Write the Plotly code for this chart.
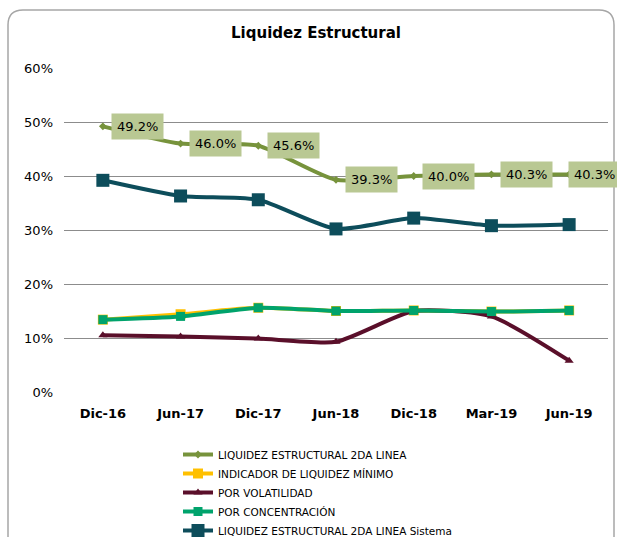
import plotly.graph_objects as go

categories = ["Dic-16", "Jun-17", "Dic-17", "Jun-18", "Dic-18", "Mar-19", "Jun-19"]
liq_2da = [49.2, 46.0, 45.6, 39.3, 40.0, 40.3, 40.3]
ind_min = [13.4, 14.4, 15.6, 15.0, 15.1, 14.9, 15.1]
volat = [10.5, 10.3, 9.9, 9.3, 15.0, 14.0, 5.8]
concen = [13.4, 14.0, 15.6, 15.0, 15.1, 14.9, 15.1]
sistema = [39.2, 36.3, 35.6, 30.2, 32.2, 30.8, 31.0]
y_ticks = [0, 10, 20, 30, 40, 50, 60]

FONT = "DejaVu Sans"

W, H = 617, 537
ML, MR, MT, MB = 64, 9, 68, 0
PW, PH = W - ML - MR, H - MT - MB


def px_x(p):
    return (p - ML) / PW


def px_y(p):
    return (H - MB - p) / PH


fig = go.Figure()

series = [
    ("LIQUIDEZ ESTRUCTURAL 2DA LINEA", liq_2da, "#77933C", "diamond", 6, 4),
    ("INDICADOR DE LIQUIDEZ MÍNIMO", ind_min, "#FFC000", "square", 10, 4),
    ("POR VOLATILIDAD", volat, "#5A0F2A", "triangle-up", 8, 4),
    ("POR CONCENTRACIÓN", concen, "#00A36C", "square", 9, 4),
    ("LIQUIDEZ ESTRUCTURAL 2DA LINEA Sistema", sistema, "#0D4D5B", "square", 13, 4),
]

for name, vals, color, sym, msize, lw in series:
    fig.add_trace(go.Scatter(
        x=categories, y=vals, name=name, mode="lines+markers",
        line=dict(color=color, width=lw, shape="spline", smoothing=0.6),
        marker=dict(symbol=sym, size=msize, color=color),
    ))

n = len(categories)
for i, (c, v) in enumerate(zip(categories, liq_2da)):
    fig.add_annotation(
        x=c, y=v, xref="x", yref="y", text=f"{v:.1f}%",
        showarrow=False, xshift=(25 if i == n - 1 else 35), yshift=0,
        font=dict(family=FONT, size=13, color="#000000"),
        bgcolor="#B9C893", borderpad=5,
    )

# rounded border
x0, x1 = px_x(8), px_x(614)
y1, y0 = px_y(10), px_y(545)
rx, ry = 15 / PW, 15 / PH
path = (f"M {x0+rx},{y1} L {x1-rx},{y1} Q {x1},{y1} {x1},{y1-ry} "
        f"L {x1},{y0} L {x0},{y0} L {x0},{y1-ry} Q {x0},{y1} {x0+rx},{y1} Z")
fig.add_shape(type="path", path=path, xref="paper", yref="paper",
              line=dict(color="#A6A6A6", width=1.5), layer="below")

fig.update_layout(
    width=W, height=H,
    margin=dict(l=ML, r=MR, t=MT, b=MB, autoexpand=False),
    paper_bgcolor="white", plot_bgcolor="white",
    title=dict(text="<b>Liquidez Estructural</b>", x=316 / W, xanchor="center",
               y=1 - 33 / H, yanchor="middle",
               font=dict(family=FONT, size=15, color="#000000")),
    font=dict(family=FONT, size=13, color="#000000"),
    showlegend=True,
    legend=dict(x=px_x(178), y=px_y(440), xanchor="left", yanchor="top",
                orientation="v", font=dict(family=FONT, size=10.5, color="#000000"),
                tracegroupgap=0, itemwidth=30, bgcolor="rgba(0,0,0,0)"),
    xaxis=dict(type="category", range=[-0.5, len(categories) - 0.5],
               showgrid=False, showline=False, ticks="",
               tickfont=dict(family=FONT, size=13, color="#000000", weight="bold"),
               ticklabelstandoff=12, anchor="y", automargin=False),
    yaxis=dict(range=[0, 60], tickvals=y_ticks, ticktext=[f"{t}%" for t in y_ticks],
               domain=[px_y(392), 1.0], automargin=False,
               showgrid=True, gridcolor="#8C8C8C", gridwidth=1, zeroline=False,
               showline=False, ticks="", ticklabelstandoff=10,
               tickfont=dict(family=FONT, size=13, color="#000000")),
)

fig.write_html("out.html")
